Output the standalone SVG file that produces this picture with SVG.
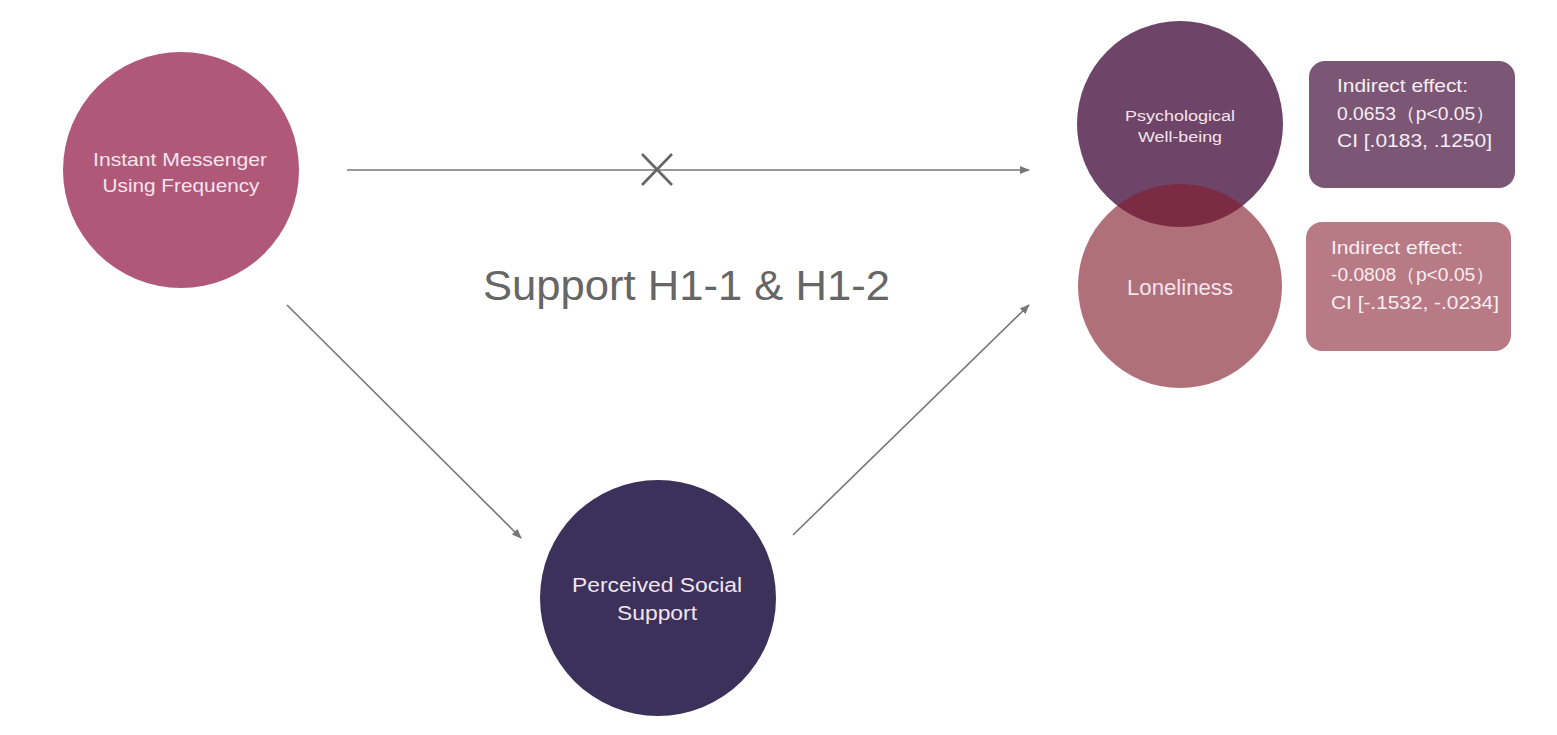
<svg xmlns="http://www.w3.org/2000/svg" width="1557" height="735" viewBox="0 0 1557 735">
  <style>
    .lbl { font-family: "Liberation Sans", Arial, sans-serif; fill: #f4e4ee; text-anchor: middle; }
    .box { font-family: "Liberation Sans", Arial, sans-serif; fill: #f6eef3; font-size: 18.5px; }
    .conn { stroke: #777777; stroke-width: 1.6; fill: none; }
  </style>
  <defs>
    <marker id="arrow" markerWidth="10" markerHeight="10" refX="9" refY="5" orient="auto" markerUnits="userSpaceOnUse">
      <path d="M0,1 L10,5 L0,9 Z" fill="#777777"/>
    </marker>
  </defs>
  <rect width="1557" height="735" fill="#ffffff"/>

  <g id="connectors">
    <line class="conn" x1="347" y1="170" x2="1029" y2="170" marker-end="url(#arrow)"/>
    <path d="M642,154 L672,185 M672,154 L642,185" stroke="#666666" stroke-width="2.6" fill="none"/>
    <line class="conn" x1="287" y1="305" x2="521" y2="538" marker-end="url(#arrow)"/>
    <line class="conn" x1="793" y1="535" x2="1029" y2="305" marker-end="url(#arrow)"/>
  </g>

  <g id="node-im">
    <circle cx="181" cy="170" r="118" fill="#b05878"/>
    <text class="lbl" x="180" y="166" font-size="19" textLength="174" lengthAdjust="spacingAndGlyphs">Instant Messenger</text>
    <text class="lbl" x="181" y="192" font-size="19" textLength="157" lengthAdjust="spacingAndGlyphs">Using Frequency</text>
  </g>

  <g id="node-psych">
    <circle cx="1180" cy="124" r="103" fill="#6e4468"/>
    <text class="lbl" x="1180" y="121" font-size="15.5" textLength="110" lengthAdjust="spacingAndGlyphs">Psychological</text>
    <text class="lbl" x="1180" y="142" font-size="15.5" textLength="84" lengthAdjust="spacingAndGlyphs">Well-being</text>
  </g>

  <g id="node-loneliness">
    <circle cx="1180" cy="286" r="102" fill="#821e2e" fill-opacity="0.634"/>
    <text class="lbl" x="1180" y="295" font-size="22" textLength="106" lengthAdjust="spacingAndGlyphs">Loneliness</text>
  </g>

  <g id="node-pss">
    <circle cx="658" cy="598" r="118" fill="#3b315b"/>
    <text class="lbl" x="657" y="592" font-size="20.5" textLength="170" lengthAdjust="spacingAndGlyphs">Perceived Social</text>
    <text class="lbl" x="657" y="620" font-size="20.5" textLength="80" lengthAdjust="spacingAndGlyphs">Support</text>
  </g>

  <g id="box-psych">
    <rect x="1309" y="61" width="206" height="127" rx="16" fill="#7c5675"/>
    <text class="box" x="1337" y="92" textLength="131" lengthAdjust="spacingAndGlyphs">Indirect effect:</text>
    <text class="box" x="1337" y="120" textLength="158" lengthAdjust="spacingAndGlyphs">0.0653（p&lt;0.05）</text>
    <text class="box" x="1337" y="147" textLength="155" lengthAdjust="spacingAndGlyphs">CI [.0183, .1250]</text>
  </g>

  <g id="box-loneliness">
    <rect x="1306" y="222" width="205" height="129" rx="16" fill="#b87a85"/>
    <text class="box" x="1331" y="254" textLength="132" lengthAdjust="spacingAndGlyphs">Indirect effect:</text>
    <text class="box" x="1331" y="281" textLength="164" lengthAdjust="spacingAndGlyphs">-0.0808（p&lt;0.05）</text>
    <text class="box" x="1331" y="309" textLength="168" lengthAdjust="spacingAndGlyphs">CI [-.1532, -.0234]</text>
  </g>

  <g id="title">
    <text x="483" y="300" font-family="'Liberation Sans', Arial, sans-serif" font-size="43" fill="#666666" textLength="407" lengthAdjust="spacingAndGlyphs">Support H1-1 &amp; H1-2</text>
  </g>
</svg>
